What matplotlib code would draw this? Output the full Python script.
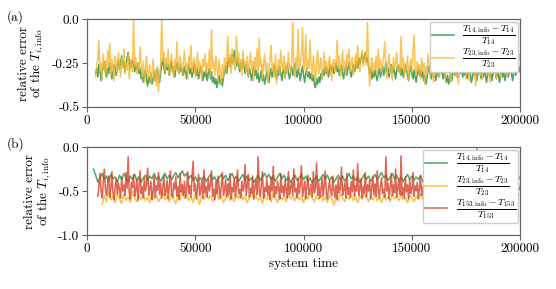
import numpy as np
import matplotlib
matplotlib.use('Agg')
import matplotlib.pyplot as plt

plt.rcParams['font.family'] = 'serif'
plt.rcParams['font.serif'] = ['cmr10']
plt.rcParams['mathtext.fontset'] = 'cm'
plt.rcParams['axes.formatter.use_mathtext'] = True

GREEN = '#3b9b52'
YELLOW = '#f7b733'
RED = '#d3361c'

# panel (a): sampled every 500 time units from 4000
t_a = np.arange(4000, 200001, 500)
green_a = [
    -0.31, -0.28, -0.33, -0.26, -0.29, -0.35, -0.30, -0.27, -0.24, -0.30, -0.33, -0.28, -0.31, -0.25, -0.29, -0.34, -0.30, -0.26, -0.28, -0.32,
    -0.27, -0.23, -0.29, -0.25, -0.21, -0.27, -0.24, -0.30, -0.26, -0.22, -0.19, -0.25, -0.28, -0.23, -0.27, -0.24, -0.30, -0.26, -0.29, -0.25,
    -0.31, -0.28, -0.34, -0.30, -0.36, -0.32, -0.29, -0.35, -0.38, -0.33, -0.36, -0.31, -0.37, -0.34, -0.30, -0.35, -0.32, -0.28, -0.34, -0.36,
    -0.30, -0.26, -0.22, -0.28, -0.31, -0.25, -0.29, -0.26, -0.32, -0.27, -0.24, -0.30, -0.27, -0.33, -0.29, -0.25, -0.28, -0.31, -0.26, -0.30,
    -0.28, -0.32, -0.27, -0.30, -0.34, -0.29, -0.26, -0.31, -0.28, -0.33, -0.30, -0.25, -0.29, -0.32, -0.28, -0.34, -0.30, -0.27, -0.31, -0.35,
    -0.30, -0.33, -0.29, -0.35, -0.31, -0.28, -0.34, -0.30, -0.36, -0.33, -0.37, -0.34, -0.39, -0.35, -0.32, -0.37, -0.34, -0.38, -0.33, -0.30,
    -0.27, -0.31, -0.25, -0.22, -0.27, -0.24, -0.20, -0.25, -0.18, -0.23, -0.27, -0.22, -0.26, -0.30, -0.25, -0.28, -0.23, -0.27, -0.31, -0.26,
    -0.29, -0.33, -0.28, -0.31, -0.35, -0.30, -0.27, -0.32, -0.29, -0.34, -0.31, -0.36, -0.33, -0.29, -0.35, -0.32, -0.37, -0.34, -0.30, -0.33,
    -0.36, -0.31, -0.28, -0.33, -0.30, -0.26, -0.31, -0.34, -0.29, -0.32, -0.27, -0.31, -0.35, -0.30, -0.28, -0.33, -0.29, -0.26, -0.31, -0.34,
    -0.30, -0.27, -0.32, -0.29, -0.25, -0.30, -0.33, -0.28, -0.31, -0.35, -0.30, -0.27, -0.32, -0.36, -0.31, -0.28, -0.33, -0.30, -0.34, -0.31,
    -0.35, -0.32, -0.37, -0.39, -0.34, -0.37, -0.33, -0.36, -0.31, -0.34, -0.29, -0.32, -0.27, -0.31, -0.28, -0.33, -0.29, -0.26, -0.30, -0.27,
    -0.31, -0.28, -0.25, -0.30, -0.27, -0.32, -0.29, -0.26, -0.31, -0.34, -0.29, -0.27, -0.32, -0.28, -0.25, -0.30, -0.33, -0.29, -0.26, -0.30,
    -0.27, -0.24, -0.28, -0.22, -0.26, -0.23, -0.20, -0.25, -0.21, -0.19, -0.24, -0.22, -0.27, -0.31, -0.28, -0.34, -0.30, -0.33, -0.29, -0.32,
    -0.35, -0.31, -0.28, -0.33, -0.30, -0.27, -0.32, -0.29, -0.25, -0.30, -0.28, -0.33, -0.29, -0.26, -0.31, -0.27, -0.30, -0.34, -0.29, -0.26,
    -0.30, -0.27, -0.32, -0.28, -0.33, -0.30, -0.26, -0.29, -0.32, -0.35, -0.30, -0.27, -0.31, -0.34, -0.29, -0.33, -0.36, -0.31, -0.28, -0.32,
    -0.29, -0.33, -0.30, -0.35, -0.32, -0.37, -0.33, -0.29, -0.27, -0.31, -0.34, -0.30, -0.26, -0.31, -0.35, -0.32, -0.28, -0.33, -0.30, -0.27,
    -0.31, -0.34, -0.29, -0.33, -0.36, -0.32, -0.37, -0.34, -0.31, -0.35, -0.30, -0.27, -0.32, -0.29, -0.33, -0.30, -0.26, -0.31, -0.28, -0.33,
    -0.29, -0.32, -0.28, -0.34, -0.30, -0.27, -0.31, -0.36, -0.33, -0.29, -0.32, -0.28, -0.35, -0.31, -0.27, -0.30, -0.34, -0.30, -0.33, -0.29,
    -0.32, -0.36, -0.31, -0.28, -0.33, -0.30, -0.35, -0.31, -0.27, -0.30, -0.34, -0.29, -0.32, -0.36, -0.31, -0.28, -0.33, -0.30, -0.35, -0.32,
    -0.29, -0.33, -0.30, -0.27, -0.31, -0.35, -0.31, -0.28, -0.32, -0.29, -0.26, -0.30, -0.27,
]
yellow_a = [
    -0.33, -0.27, -0.22, -0.12, -0.30, -0.25, -0.34, -0.20, -0.29, -0.24, -0.31, -0.18, -0.27, -0.14, -0.32, -0.23, -0.28, -0.35, -0.21, -0.26,
    -0.30, -0.19, -0.26, -0.33, -0.22, -0.28, -0.17, -0.31, -0.25, -0.29, -0.20, -0.34, -0.26, -0.23, -0.30, 0.00, -0.27, -0.22, -0.31, -0.25,
    -0.29, -0.16, -0.27, -0.33, -0.24, -0.36, -0.28, -0.21, -0.34, -0.30, -0.26, -0.37, -0.31, -0.23, -0.35, -0.29, -0.38, -0.27, -0.41, -0.32,
    -0.26, 0.00, -0.24, -0.19, -0.30, -0.22, -0.27, -0.17, -0.31, -0.25, -0.20, -0.28, -0.33, -0.23, -0.29, -0.13, -0.26, -0.31, -0.21, -0.27,
    -0.32, -0.24, -0.18, -0.29, -0.25, -0.34, -0.21, -0.28, -0.15, -0.30, -0.26, -0.22, -0.33, -0.27, -0.19, -0.31, -0.24, -0.29, -0.35, -0.23,
    -0.27, -0.20, -0.31, -0.25, -0.29, -0.18, -0.33, -0.06, -0.28, -0.24, -0.32, -0.21, -0.27, -0.35, -0.23, -0.30, -0.37, -0.26, -0.33, -0.22,
    -0.30, -0.24, -0.10, -0.27, -0.20, -0.31, -0.17, -0.26, -0.22, -0.29, -0.10, -0.25, -0.19, -0.28, -0.23, -0.32, -0.18, -0.27, -0.24, -0.30,
    -0.21, -0.33, -0.26, -0.19, -0.29, -0.24, -0.35, -0.22, -0.28, -0.17, -0.31, -0.11, -0.27, -0.23, -0.34, -0.26, -0.20, -0.30, -0.25, -0.36,
    -0.28, -0.22, -0.15, -0.30, -0.25, -0.33, -0.20, -0.37, -0.27, -0.23, -0.31, -0.18, -0.26, -0.29, -0.21, -0.34, -0.25, -0.30, -0.19, -0.27,
    -0.31, -0.24, -0.02, -0.28, -0.33, -0.22, -0.27, -0.06, -0.30, -0.25, -0.20, -0.05, -0.29, -0.26, -0.09, -0.31, -0.23, -0.28, -0.12, -0.27,
    -0.33, -0.21, -0.29, -0.36, -0.25, -0.18, -0.31, -0.27, -0.22, -0.34, -0.28, -0.19, -0.30, -0.24, -0.32, -0.26, -0.21, -0.29, -0.35, -0.25,
    -0.23, -0.30, -0.26, -0.12, -0.28, -0.21, -0.33, -0.25, -0.18, -0.29, -0.24, -0.31, -0.20, -0.27, -0.17, -0.30, -0.25, -0.22, -0.32, -0.26,
    -0.20, -0.28, -0.15, -0.25, -0.30, -0.22, -0.18, -0.27, -0.23, -0.19, -0.26, -0.02, -0.24, -0.38, -0.28, -0.22, -0.31, -0.25, -0.29, -0.21,
    -0.32, -0.17, -0.27, -0.23, -0.30, -0.26, -0.21, -0.13, -0.29, -0.34, -0.24, -0.20, -0.31, -0.27, -0.35, -0.22, -0.28, -0.25, -0.19, -0.30,
    -0.26, -0.31, -0.10, -0.28, -0.22, -0.33, -0.25, -0.29, -0.21, -0.35, -0.27, -0.23, -0.30, -0.19, -0.09, -0.28, -0.32, -0.24, -0.30, -0.26,
    -0.34, -0.22, -0.29, -0.25, -0.37, -0.27, -0.31, -0.20, -0.26, -0.33, -0.24, -0.29, -0.36, -0.27, -0.21, -0.30, -0.25, -0.33, -0.28, -0.22,
    -0.30, -0.19, -0.27, -0.34, -0.24, -0.29, -0.22, -0.31, -0.36, -0.26, -0.30, -0.21, -0.28, -0.33, -0.25, -0.37, -0.27, -0.23, -0.31, -0.26,
    -0.21, -0.29, -0.33, -0.25, -0.28, -0.35, -0.24, -0.30, -0.27, -0.20, -0.31, -0.38, -0.26, -0.29, -0.23, -0.32, -0.27, -0.34, -0.25, -0.30,
    -0.25, -0.32, -0.22, -0.29, -0.36, -0.27, -0.31, -0.24, -0.19, -0.28, -0.34, -0.26, -0.30, -0.23, -0.33, -0.27, -0.21, -0.29, -0.25, -0.31,
    -0.33, -0.26, -0.30, -0.21, -0.28, -0.24, -0.31, -0.26, -0.22, -0.28, -0.25, -0.20, -0.23,
]

# panel (b): green and yellow every 1000, red every 500
t_green_b = np.arange(3000, 200001, 1000)
green_b = [
    -0.25, -0.32, -0.40, -0.35, -0.30, -0.37, -0.33, -0.39, -0.31, -0.36,
    -0.34, -0.40, -0.32, -0.37, -0.30, -0.35, -0.39, -0.33, -0.37, -0.31,
    -0.38, -0.34, -0.40, -0.35, -0.32, -0.38, -0.33, -0.36, -0.30, -0.37,
    -0.33, -0.39, -0.34, -0.30, -0.36, -0.32, -0.37, -0.33, -0.29, -0.35,
    -0.31, -0.27, -0.33, -0.30, -0.36, -0.32, -0.38, -0.34, -0.39, -0.35,
    -0.37, -0.33, -0.39, -0.35, -0.31, -0.37, -0.34, -0.40, -0.35, -0.31,
    -0.36, -0.32, -0.38, -0.34, -0.30, -0.36, -0.33, -0.39, -0.35, -0.31,
    -0.37, -0.33, -0.38, -0.35, -0.40, -0.36, -0.32, -0.38, -0.34, -0.30,
    -0.35, -0.31, -0.37, -0.33, -0.39, -0.34, -0.30, -0.36, -0.32, -0.38,
    -0.34, -0.40, -0.36, -0.32, -0.38, -0.35, -0.31, -0.37, -0.33, -0.39,
    -0.35, -0.41, -0.37, -0.33, -0.39, -0.35, -0.31, -0.36, -0.32, -0.38,
    -0.34, -0.40, -0.36, -0.32, -0.37, -0.33, -0.39, -0.35, -0.30, -0.36,
    -0.33, -0.38, -0.34, -0.40, -0.36, -0.31, -0.37, -0.33, -0.39, -0.35,
    -0.31, -0.37, -0.33, -0.29, -0.35, -0.32, -0.38, -0.34, -0.30, -0.36,
    -0.32, -0.38, -0.34, -0.39, -0.35, -0.31, -0.37, -0.33, -0.38, -0.34,
    -0.37, -0.33, -0.39, -0.35, -0.31, -0.37, -0.34, -0.40, -0.36, -0.32,
    -0.38, -0.34, -0.30, -0.36, -0.32, -0.38, -0.35, -0.31, -0.37, -0.33,
    -0.39, -0.35, -0.31, -0.37, -0.33, -0.38, -0.34, -0.30, -0.36, -0.32,
    -0.38, -0.34, -0.39, -0.35, -0.31, -0.37, -0.33, -0.39, -0.35, -0.31,
    -0.37, -0.33, -0.38, -0.34, -0.30, -0.36, -0.32, -0.36,
]
t_yellow_b = np.arange(7000, 200001, 1000)
yellow_b = [
    -0.65, -0.55, -0.62, -0.50, -0.60, -0.56, -0.63, -0.52, -0.59, -0.64,
    -0.54, -0.61, -0.57, -0.63, -0.50, -0.58, -0.62, -0.55, -0.60, -0.53,
    -0.61, -0.57, -0.63, -0.52, -0.59, -0.55, -0.62, -0.58, -0.51, -0.60,
    -0.56, -0.62, -0.53, -0.59, -0.64, -0.55, -0.60, -0.50, -0.58, -0.54,
    -0.61, -0.57, -0.63, -0.52, -0.58, -0.65, -0.56, -0.60, -0.53, -0.59,
    -0.55, -0.62, -0.57, -0.50, -0.60, -0.56, -0.63, -0.58, -0.53, -0.61,
    -0.57, -0.62, -0.54, -0.59, -0.52, -0.60, -0.56, -0.63, -0.58, -0.51,
    -0.59, -0.55, -0.61, -0.57, -0.64, -0.54, -0.60, -0.56, -0.62, -0.52,
    -0.58, -0.63, -0.55, -0.60, -0.57, -0.62, -0.53, -0.59, -0.56, -0.61,
    -0.54, -0.60, -0.57, -0.63, -0.55, -0.59, -0.52, -0.58, -0.62, -0.56,
    -0.60, -0.54, -0.61, -0.57, -0.63, -0.55, -0.59, -0.66, -0.56, -0.61,
    -0.53, -0.58, -0.62, -0.56, -0.60, -0.54, -0.61, -0.57, -0.63, -0.55,
    -0.59, -0.52, -0.58, -0.62, -0.56, -0.60, -0.54, -0.61, -0.57, -0.63,
    -0.55, -0.60, -0.57, -0.62, -0.53, -0.59, -0.56, -0.61, -0.54, -0.60,
    -0.57, -0.63, -0.55, -0.58, -0.62, -0.56, -0.60, -0.53, -0.59, -0.55,
    -0.61, -0.57, -0.63, -0.54, -0.60, -0.56, -0.62, -0.58, -0.53, -0.59,
    -0.56, -0.62, -0.55, -0.60, -0.57, -0.63, -0.54, -0.59, -0.56, -0.61,
    -0.58, -0.53, -0.60, -0.56, -0.62, -0.55, -0.59, -0.57, -0.63, -0.54,
    -0.60, -0.56, -0.61, -0.58, -0.53, -0.59, -0.62, -0.55, -0.60, -0.57,
    -0.52, -0.58, -0.55, -0.54,
]
t_red_b = np.arange(5000, 200001, 500)
red_b = [
    -0.56, -0.44, -0.30, -0.51, -0.58, -0.38, -0.25, -0.49, -0.55, -0.42, -0.33, -0.57, -0.47, -0.28, -0.52, -0.60, -0.45, -0.36, -0.53, -0.41,
    -0.48, -0.58, -0.34, -0.50, -0.43, -0.55, -0.29, -0.47, -0.11, -0.52, -0.59, -0.40, -0.46, -0.31, -0.56, -0.49, -0.37, -0.61, -0.44, -0.27,
    -0.53, -0.45, -0.58, -0.35, -0.50, -0.42, -0.24, -0.55, -0.47, -0.39, -0.60, -0.51, -0.33, -0.57, -0.44, -0.49, -0.29, -0.54, -0.41, -0.58,
    -0.46, -0.32, -0.55, -0.50, -0.38, -0.59, -0.44, -0.27, -0.52, -0.57, -0.41, -0.48, -0.34, -0.56, -0.45, -0.60, -0.30, -0.51, -0.43, -0.55,
    -0.39, -0.58, -0.47, -0.28, -0.53, -0.44, -0.57, -0.35, -0.16, -0.50, -0.42, -0.59, -0.46, -0.31, -0.55, -0.49, -0.38, -0.58, -0.26, -0.52,
    -0.45, -0.57, -0.36, -0.50, -0.43, -0.27, -0.56, -0.48, -0.60, -0.40, -0.53, -0.33, -0.47, -0.58, -0.44, -0.29, -0.55, -0.49, -0.37, -0.57,
    -0.42, -0.54, -0.30, -0.59, -0.46, -0.51, -0.35, -0.57, -0.44, -0.26, -0.53, -0.48, -0.58, -0.39, -0.50, -0.45, -0.20, -0.55, -0.43, -0.31,
    -0.57, -0.47, -0.52, -0.33, -0.59, -0.45, -0.38, -0.54, -0.11, -0.50, -0.56, -0.42, -0.28, -0.58, -0.46, -0.51, -0.36, -0.55, -0.44, -0.60,
    -0.34, -0.50, -0.22, -0.57, -0.45, -0.53, -0.39, -0.48, -0.59, -0.30, -0.52, -0.44, -0.56, -0.37, -0.49, -0.58, -0.28, -0.54, -0.46, -0.40,
    -0.55, -0.25, -0.51, -0.47, -0.58, -0.36, -0.53, -0.43, -0.21, -0.56, -0.48, -0.39, -0.59, -0.45, -0.32, -0.54, -0.50, -0.42, -0.57, -0.28,
    -0.52, -0.46, -0.18, -0.55, -0.41, -0.58, -0.49, -0.35, -0.56, -0.44, -0.27, -0.53, -0.59, -0.47, -0.38, -0.51, -0.55, -0.33, -0.48, -0.57,
    -0.43, -0.60, -0.36, -0.52, -0.47, -0.23, -0.55, -0.49, -0.41, -0.58, -0.30, -0.54, -0.46, -0.57, -0.39, -0.51, -0.26, -0.56, -0.44, -0.50,
    -0.19, -0.55, -0.48, -0.36, -0.58, -0.45, -0.52, -0.29, -0.57, -0.43, -0.50, -0.38, -0.59, -0.47, -0.33, -0.54, -0.42, -0.56, -0.27, -0.49,
    -0.58, -0.44, -0.35, -0.53, -0.48, -0.57, -0.11, -0.50, -0.41, -0.59, -0.46, -0.30, -0.55, -0.43, -0.52, -0.25, -0.57, -0.47, -0.38, -0.54,
    -0.10, -0.55, -0.46, -0.58, -0.34, -0.51, -0.43, -0.59, -0.37, -0.53, -0.48, -0.29, -0.56, -0.44, -0.50, -0.40, -0.58, -0.47, -0.32, -0.55,
    -0.45, -0.57, -0.36, -0.51, -0.27, -0.55, -0.48, -0.59, -0.41, -0.52, -0.44, -0.33, -0.57, -0.49, -0.38, -0.54, -0.46, -0.58, -0.30, -0.52,
    -0.47, -0.56, -0.40, -0.53, -0.24, -0.58, -0.45, -0.50, -0.35, -0.57, -0.43, -0.52, -0.31, -0.55, -0.48, -0.59, -0.39, -0.51, -0.46, -0.56,
    -0.37, -0.53, -0.47, -0.28, -0.58, -0.44, -0.51, -0.36, -0.56, -0.42, -0.02, -0.55, -0.48, -0.33, -0.59, -0.45, -0.50, -0.40, -0.57, -0.46,
    -0.30, -0.54, -0.49, -0.58, -0.38, -0.52, -0.45, -0.57, -0.27, -0.53, -0.47, -0.41, -0.59, -0.44, -0.51, -0.35, -0.56, -0.48, -0.43, -0.55,
    -0.36, -0.52, -0.45, -0.58, -0.40, -0.50, -0.44, -0.55, -0.38, -0.49, -0.46,
]

lab14 = r'$\dfrac{T_{14,\mathrm{info}}-T_{14}}{T_{14}}$'
lab23 = r'$\dfrac{T_{23,\mathrm{info}}-T_{23}}{T_{23}}$'
lab153 = r'$\dfrac{T_{153,\mathrm{info}}-T_{153}}{T_{153}}$'
xticks = [0, 50000, 100000, 150000, 200000]
fs = 9.5
lw = 1.15

fig = plt.figure(figsize=(5.56, 2.89), dpi=100)
ax1 = fig.add_axes([0.1565, 0.630, 0.779, 0.304])
ax2 = fig.add_axes([0.1565, 0.187, 0.779, 0.304])

ax1.plot(t_a, green_a, color=GREEN, lw=lw, alpha=0.9, label=lab14)
ax1.plot(t_a, yellow_a, color=YELLOW, lw=lw, alpha=0.8, label=lab23)
ax1.set_ylim(-0.5, 0.0)
ax1.set_yticks([-0.5, -0.25, 0.0])
ax1.set_yticklabels(['-0.5', '-0.25', '0.0'])

ax2.plot(t_green_b, green_b, color=GREEN, lw=lw, alpha=0.85, label=lab14)
ax2.plot(t_yellow_b, yellow_b, color=YELLOW, lw=lw, alpha=0.85, label=lab23)
ax2.plot(t_red_b, red_b, color=RED, lw=lw, alpha=0.75, label=lab153)
ax2.set_ylim(-1.0, 0.0)
ax2.set_yticks([-1.0, -0.5, 0.0])
ax2.set_yticklabels(['-1.0', '-0.5', '0.0'])
ax2.set_xlabel('system time', fontsize=fs, labelpad=2)

for ax in (ax1, ax2):
    ax.set_xlim(0, 200000)
    ax.set_xticks(xticks)
    ax.set_xticklabels([str(v) for v in xticks])
    ax.tick_params(labelsize=fs, color='#666666', length=3.5, width=0.8, pad=2)
    for s in ax.spines.values():
        s.set_color('#666666')
        s.set_linewidth(0.9)
    ax.set_ylabel('relative error\nof the $T_{i,\\mathrm{info}}$', fontsize=fs,
                  labelpad=4, linespacing=0.9)
    leg = ax.legend(loc='upper right', fontsize=7, framealpha=1.0,
                    borderpad=0.2, labelspacing=-0.1, handlelength=2.2,
                    handletextpad=0.9, borderaxespad=0.25)
    leg.get_frame().set_edgecolor('#cccccc')
    leg.get_frame().set_linewidth(1.0)

fig.text(0.012, 0.941, '(a)', fontsize=fs, va='center')
fig.text(0.012, 0.502, '(b)', fontsize=fs, va='center')

fig.savefig('out.png', dpi=100)
